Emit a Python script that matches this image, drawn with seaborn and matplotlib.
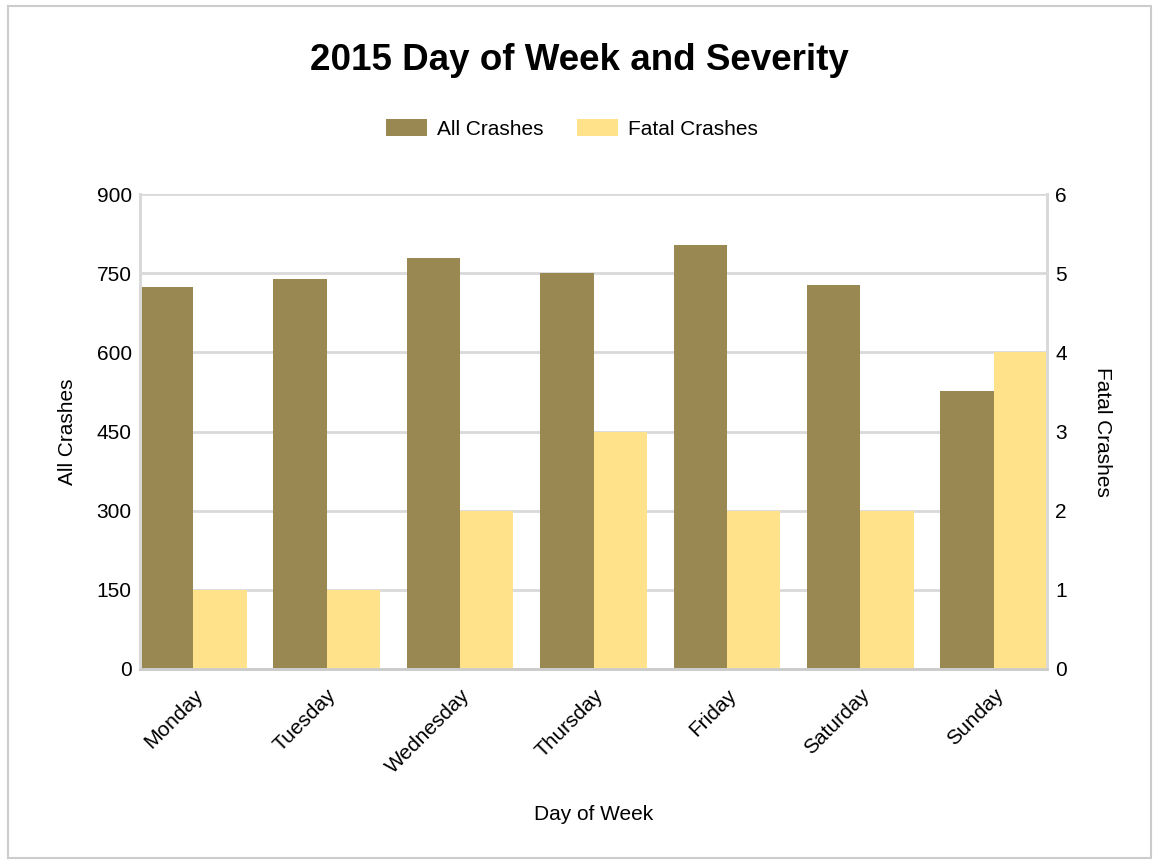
import matplotlib
matplotlib.use("Agg")
import matplotlib.pyplot as plt
import seaborn as sns
import pandas as pd
from matplotlib.patches import Patch, Rectangle

days = ["Monday", "Tuesday", "Wednesday", "Thursday", "Friday", "Saturday", "Sunday"]
all_crashes = [723, 739, 779, 751, 803, 728, 527]
fatal_crashes = [1, 1, 2, 3, 2, 2, 4]
series_names = ["All Crashes", "Fatal Crashes"]
colors = ["#998852", "#FFE28A"]
left_ticks = [0, 150, 300, 450, 600, 750, 900]
right_ticks = [0, 1, 2, 3, 4, 5, 6]

sns.set_theme(style="white")
plt.rcParams["font.family"] = ["Liberation Sans", "DejaVu Sans"]
plt.rcParams["text.color"] = "black"
plt.rcParams["axes.labelcolor"] = "black"

df_all = pd.DataFrame({"day": days, "value": all_crashes, "series": series_names[0]})
df_fatal = pd.DataFrame({"day": days, "value": fatal_crashes, "series": series_names[1]})

fig = plt.figure(figsize=(11.59, 8.61), dpi=100)
ax = fig.add_axes([140/1159, 1-669/861, (1047-140)/1159, (669-194)/861])
ax2 = ax.twinx()

palette = dict(zip(series_names, colors))
sns.barplot(data=df_all, x="day", y="value", hue="series", hue_order=series_names,
            order=days, palette=palette, width=0.8, dodge=True, ax=ax, legend=False,
            saturation=1)
sns.barplot(data=df_fatal, x="day", y="value", hue="series", hue_order=series_names,
            order=days, palette=palette, width=0.8, dodge=True, ax=ax2, legend=False,
            saturation=1)

for a in (ax, ax2):
    for p in a.patches:
        p.set_linewidth(0)

ax.set_xlim(-0.4, 6.4)
ax.set_ylim(0, 900)
ax2.set_ylim(0, 6)
ax.set_yticks(left_ticks)
ax2.set_yticks(right_ticks)
ax.yaxis.grid(True, color="#d9d9d9", linewidth=2)
ax.set_axisbelow(True)
ax2.grid(False)

for a in (ax, ax2):
    a.spines["top"].set_visible(False)
    a.spines["left"].set_color("#d9d9d9")
    a.spines["right"].set_color("#d9d9d9")
    a.spines["left"].set_linewidth(2)
    a.spines["right"].set_linewidth(2)
    a.spines["bottom"].set_color("#cccccc")
    a.spines["bottom"].set_linewidth(2)
    a.tick_params(length=0, labelsize=15, colors="black")

ax.tick_params(axis="y", pad=6)
ax2.tick_params(axis="y", pad=6)
ax.tick_params(axis="x", pad=12)
plt.setp(ax.get_xticklabels(), rotation=45, ha="right", rotation_mode="anchor")

ax.set_xlabel("Day of Week", fontsize=15, labelpad=20)
ax.set_ylabel("All Crashes", fontsize=15, labelpad=14)
ax2.set_ylabel("Fatal Crashes", fontsize=15, rotation=270, labelpad=32)

fig.text(0.5, 1-60/861, "2015 Day of Week and Severity", ha="center", va="center",
         fontsize=26.5, fontweight="bold")

handles = [Patch(facecolor=c, edgecolor="none") for c in colors]
fig.legend(handles, series_names, loc="center", bbox_to_anchor=(572/1159, 1-129/861),
           ncol=2, frameon=False, fontsize=15, handlelength=1.95, handleheight=0.9,
           handletextpad=0.5, columnspacing=1.6)

fig.patches.append(Rectangle((8/1159, 3/861), 1143/1159, 852/861, transform=fig.transFigure,
                             fill=False, edgecolor="#cccccc", linewidth=1.5))

fig.savefig("out.png", dpi=100)
